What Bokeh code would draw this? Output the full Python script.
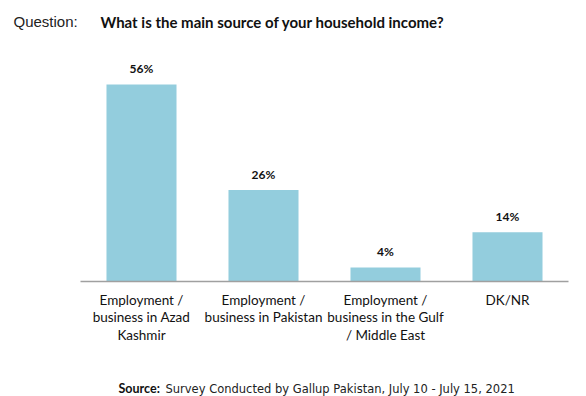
from bokeh.plotting import figure
from bokeh.models import Label, Range1d, LinearAxis, FixedTicker
from bokeh.core.properties import value
from bokeh.embed import file_html
from bokeh.resources import INLINE

categories = [
    "Employment /\nbusiness in Azad\nKashmir",
    "Employment /\nbusiness in Pakistan",
    "Employment /\nbusiness in the Gulf\n/ Middle East",
    "DK/NR",
]
values = [56, 26, 4, 14]
value_labels = ["56%", "26%", "4%", "14%"]

BAR = "#93CDDD"
W, H = 576, 396
LEFT, RIGHT = 80, 8          # plot area edges in pixels
BASE = 281                   # baseline in pixels from top
PX_PER_PCT = 3.52

slot = (W - LEFT - RIGHT) / len(categories)
xs = [i + 0.5 for i in range(len(categories))]

p = figure(width=W, height=H, output_backend="svg", toolbar_location=None,
           x_range=Range1d(-LEFT / slot, (W - LEFT) / slot),
           y_range=Range1d(-(H - BASE) / PX_PER_PCT, BASE / PX_PER_PCT),
           x_axis_type=None, y_axis_type=None, min_border=0)
p.outline_line_color = None
p.grid.visible = False

p.vbar(x=xs, top=values, width=0.574, color=BAR, line_color=None)
p.text(x=xs, y=values, text=value_labels, y_offset=-8,
       text_align="center", text_baseline="bottom",
       text_font=value("Lato"), text_font_style="bold",
       text_font_size="12px", text_color="#111111")

xa = LinearAxis(fixed_location=0, bounds=(0, len(categories)),
                ticker=FixedTicker(ticks=xs),
                major_label_overrides=dict(zip(xs, categories)))
xa.axis_line_color = "#A0A0A0"
xa.axis_line_width = 1.5
xa.major_tick_line_color = None
xa.minor_tick_line_color = None
xa.major_label_text_font = "Lato"
xa.major_label_text_font_size = "13.5px"
xa.major_label_text_color = "#111111"
xa.major_label_text_line_height = 1.1
xa.major_label_standoff = 4
p.add_layout(xa, "below")

p.add_layout(Label(x=13, y=H - 21, x_units="screen", y_units="screen",
                   text="Question:", text_font="Liberation Sans",
                   text_font_size="15px", text_color="#222222",
                   text_baseline="alphabetic"))
p.add_layout(Label(x=100, y=H - 21, x_units="screen", y_units="screen",
                   text="What is the main source of your household income?",
                   text_font="Lato", text_font_style="bold",
                   text_font_size="15px", text_color="#111111",
                   text_baseline="alphabetic"))
p.add_layout(Label(x=118, y=H - 388, x_units="screen", y_units="screen",
                   text="Source:", text_font="Lato", text_font_style="bold",
                   text_font_size="12.5px", text_color="#111111",
                   text_baseline="alphabetic"))
p.add_layout(Label(x=165, y=H - 388, x_units="screen", y_units="screen",
                   text="Survey Conducted by Gallup Pakistan, July 10 - July 15, 2021",
                   text_font="DejaVu Sans", text_font_size="11.5px",
                   text_color="#222222", text_baseline="alphabetic"))

open("out.html", "w").write(file_html(p, INLINE))
